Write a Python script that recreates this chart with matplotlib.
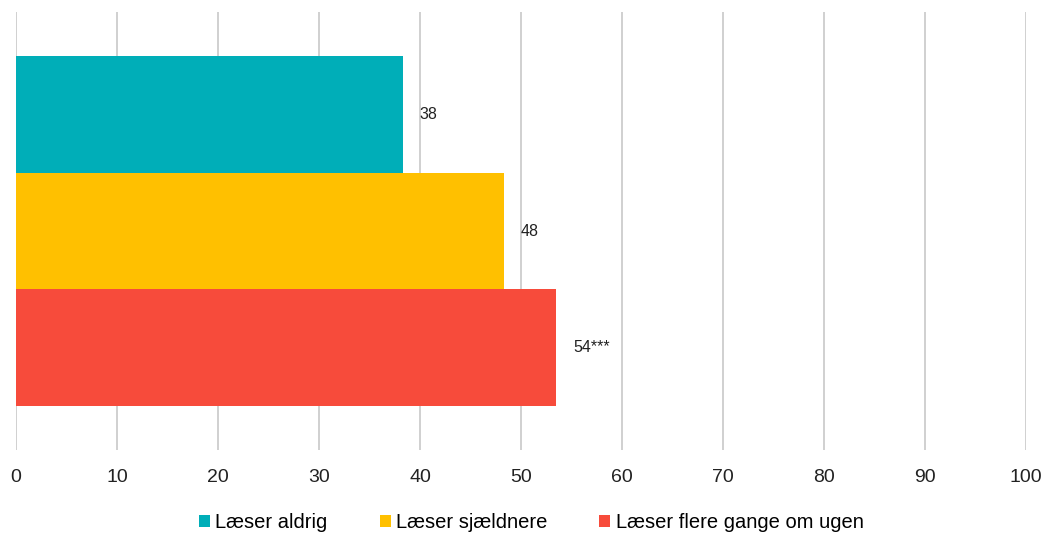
import matplotlib
matplotlib.use("Agg")
from matplotlib import pyplot as plt

# data
series = ["Læser aldrig", "Læser sjældnere", "Læser flere gange om ugen"]
values = [38.3, 48.3, 53.5]
labels = ["38", "48", "54***"]
colors = ["#00aeb8", "#ffc000", "#f74b3b"]
xticks = list(range(0, 101, 10))

plt.rcParams['font.family'] = ['Liberation Sans', 'DejaVu Sans']

fig = plt.figure(figsize=(10.47, 5.36), dpi=100)
ax = fig.add_axes([16 / 1047, (536 - 450) / 536, (1026 - 16) / 1047, 438 / 536])

ypos = [1, 0, -1]
for y, v, lab, c, name in zip(ypos, values, labels, colors, series):
    ax.barh(y, v, height=1.0, color=c, label=name, zorder=2)
    ax.annotate(lab, (v, y), xytext=(12, 0), textcoords="offset points",
                va="center", ha="left", fontsize=11.5, color="#222222")

ax.set_xlim(0, 100)
ax.set_ylim(-1.877, 1.877)
ax.set_xticks(xticks)
ax.set_yticks([])
ax.tick_params(axis="x", length=0, pad=13.5, labelsize=14, colors="#222222")
ax.grid(axis="x", color="#c8c8c8", linewidth=1.2, zorder=0)
ax.set_axisbelow(True)
for s in ax.spines.values():
    s.set_visible(False)

ax.legend(loc="center", bbox_to_anchor=(0.51, -0.165), ncol=3, frameon=False,
          fontsize=14.5, handlelength=0.55, handleheight=0.55, handletextpad=0.25,
          columnspacing=2.6)

fig.savefig("out.png", dpi=100)
